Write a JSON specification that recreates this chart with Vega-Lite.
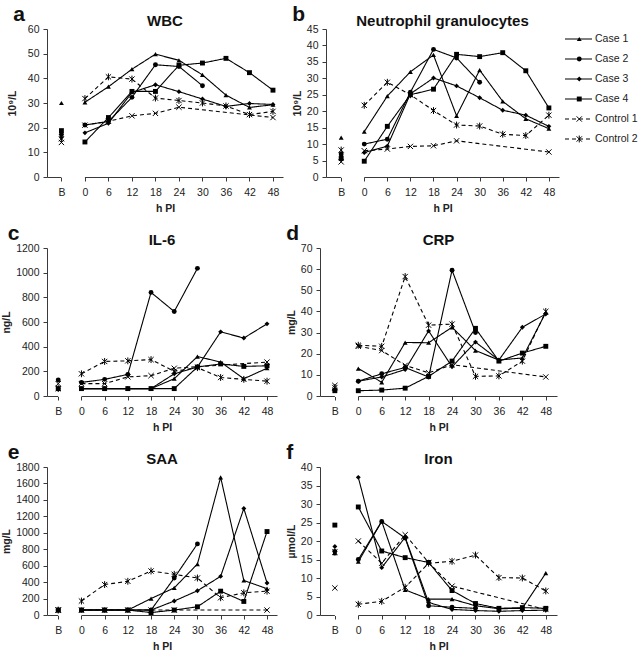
{
"$schema": "https://vega.github.io/schema/vega-lite/v6.json",
"padding": {"left": 1, "top": 4, "right": 0, "bottom": 0},
"autosize": {"type": "pad"},
"datasets": {
"leg": [{"s":"Case 1"},{"s":"Case 2"},{"s":"Case 3"},{"s":"Case 4"},{"s":"Control 1"},{"s":"Control 2"}],
"d": [
{"p":"a","s":"Case 1","h":"B","v":30},{"p":"a","s":"Case 1","h":"0","v":30.3},{"p":"a","s":"Case 1","h":"6","v":36.6},{"p":"a","s":"Case 1","h":"12","v":43.7},{"p":"a","s":"Case 1","h":"18","v":49.8},{"p":"a","s":"Case 1","h":"24","v":47.3},{"p":"a","s":"Case 1","h":"30","v":41.4},{"p":"a","s":"Case 1","h":"36","v":33.2},{"p":"a","s":"Case 1","h":"42","v":28.2},{"p":"a","s":"Case 1","h":"48","v":29.3},
{"p":"a","s":"Case 2","h":"B","v":17.3},{"p":"a","s":"Case 2","h":"0","v":21.1},{"p":"a","s":"Case 2","h":"6","v":22.5},{"p":"a","s":"Case 2","h":"12","v":32.3},{"p":"a","s":"Case 2","h":"18","v":45.5},{"p":"a","s":"Case 2","h":"24","v":44.8},{"p":"a","s":"Case 2","h":"30","v":37},
{"p":"a","s":"Case 3","h":"B","v":16},{"p":"a","s":"Case 3","h":"0","v":17.9},{"p":"a","s":"Case 3","h":"6","v":21.8},{"p":"a","s":"Case 3","h":"12","v":34.3},{"p":"a","s":"Case 3","h":"18","v":37.4},{"p":"a","s":"Case 3","h":"24","v":34.6},{"p":"a","s":"Case 3","h":"30","v":31.6},{"p":"a","s":"Case 3","h":"36","v":28.6},{"p":"a","s":"Case 3","h":"42","v":29.8},{"p":"a","s":"Case 3","h":"48","v":29.4},
{"p":"a","s":"Case 4","h":"B","v":18.8},{"p":"a","s":"Case 4","h":"0","v":14.2},{"p":"a","s":"Case 4","h":"6","v":24.1},{"p":"a","s":"Case 4","h":"12","v":34.7},{"p":"a","s":"Case 4","h":"18","v":34.7},{"p":"a","s":"Case 4","h":"24","v":45.3},{"p":"a","s":"Case 4","h":"30","v":46.2},{"p":"a","s":"Case 4","h":"36","v":48.1},{"p":"a","s":"Case 4","h":"42","v":42.3},{"p":"a","s":"Case 4","h":"48","v":35.2},
{"p":"a","s":"Control 1","h":"B","v":14},{"p":"a","s":"Control 1","h":"0","v":21},{"p":"a","s":"Control 1","h":"6","v":22.6},{"p":"a","s":"Control 1","h":"12","v":24.8},{"p":"a","s":"Control 1","h":"18","v":25.8},{"p":"a","s":"Control 1","h":"24","v":28.3},{"p":"a","s":"Control 1","h":"48","v":24.1},
{"p":"a","s":"Control 2","h":"B","v":15.5},{"p":"a","s":"Control 2","h":"0","v":31.8},{"p":"a","s":"Control 2","h":"6","v":40.6},{"p":"a","s":"Control 2","h":"12","v":39.7},{"p":"a","s":"Control 2","h":"18","v":32},{"p":"a","s":"Control 2","h":"24","v":31},{"p":"a","s":"Control 2","h":"30","v":30},{"p":"a","s":"Control 2","h":"36","v":28.8},{"p":"a","s":"Control 2","h":"42","v":25.3},{"p":"a","s":"Control 2","h":"48","v":26.6},

{"p":"b","s":"Case 1","h":"B","v":12},{"p":"b","s":"Case 1","h":"0","v":13.8},{"p":"b","s":"Case 1","h":"6","v":24.6},{"p":"b","s":"Case 1","h":"12","v":32},{"p":"b","s":"Case 1","h":"18","v":37.1},{"p":"b","s":"Case 1","h":"24","v":18.6},{"p":"b","s":"Case 1","h":"30","v":32.5},{"p":"b","s":"Case 1","h":"36","v":23},{"p":"b","s":"Case 1","h":"42","v":17.7},{"p":"b","s":"Case 1","h":"48","v":14.7},
{"p":"b","s":"Case 2","h":"B","v":7},{"p":"b","s":"Case 2","h":"0","v":10},{"p":"b","s":"Case 2","h":"6","v":11.5},{"p":"b","s":"Case 2","h":"12","v":25.8},{"p":"b","s":"Case 2","h":"18","v":38.8},{"p":"b","s":"Case 2","h":"24","v":36.2},{"p":"b","s":"Case 2","h":"30","v":28.8},
{"p":"b","s":"Case 3","h":"B","v":6.4},{"p":"b","s":"Case 3","h":"0","v":7.4},{"p":"b","s":"Case 3","h":"6","v":9.4},{"p":"b","s":"Case 3","h":"12","v":25.3},{"p":"b","s":"Case 3","h":"18","v":30.1},{"p":"b","s":"Case 3","h":"24","v":27.7},{"p":"b","s":"Case 3","h":"30","v":24.1},{"p":"b","s":"Case 3","h":"36","v":20.3},{"p":"b","s":"Case 3","h":"42","v":18.8},{"p":"b","s":"Case 3","h":"48","v":15.4},
{"p":"b","s":"Case 4","h":"B","v":5.6},{"p":"b","s":"Case 4","h":"0","v":4.8},{"p":"b","s":"Case 4","h":"6","v":15.4},{"p":"b","s":"Case 4","h":"12","v":25},{"p":"b","s":"Case 4","h":"18","v":26.7},{"p":"b","s":"Case 4","h":"24","v":37.3},{"p":"b","s":"Case 4","h":"30","v":36.6},{"p":"b","s":"Case 4","h":"36","v":37.8},{"p":"b","s":"Case 4","h":"42","v":32.3},{"p":"b","s":"Case 4","h":"48","v":21},
{"p":"b","s":"Control 1","h":"B","v":4.6},{"p":"b","s":"Control 1","h":"0","v":8},{"p":"b","s":"Control 1","h":"6","v":8.5},{"p":"b","s":"Control 1","h":"12","v":9.3},{"p":"b","s":"Control 1","h":"18","v":9.5},{"p":"b","s":"Control 1","h":"24","v":11},{"p":"b","s":"Control 1","h":"48","v":7.6},
{"p":"b","s":"Control 2","h":"B","v":8.2},{"p":"b","s":"Control 2","h":"0","v":21.8},{"p":"b","s":"Control 2","h":"6","v":28.8},{"p":"b","s":"Control 2","h":"12","v":25},{"p":"b","s":"Control 2","h":"18","v":20.2},{"p":"b","s":"Control 2","h":"24","v":15.8},{"p":"b","s":"Control 2","h":"30","v":15.5},{"p":"b","s":"Control 2","h":"36","v":13},{"p":"b","s":"Control 2","h":"42","v":12.6},{"p":"b","s":"Control 2","h":"48","v":18.8},

{"p":"c","s":"Case 1","h":"B","v":60},{"p":"c","s":"Case 1","h":"0","v":60},{"p":"c","s":"Case 1","h":"6","v":60},{"p":"c","s":"Case 1","h":"12","v":60},{"p":"c","s":"Case 1","h":"18","v":60},{"p":"c","s":"Case 1","h":"24","v":140},{"p":"c","s":"Case 1","h":"30","v":320},{"p":"c","s":"Case 1","h":"36","v":275},{"p":"c","s":"Case 1","h":"42","v":140},{"p":"c","s":"Case 1","h":"48","v":225},
{"p":"c","s":"Case 2","h":"B","v":130},{"p":"c","s":"Case 2","h":"0","v":110},{"p":"c","s":"Case 2","h":"6","v":135},{"p":"c","s":"Case 2","h":"12","v":175},{"p":"c","s":"Case 2","h":"18","v":840},{"p":"c","s":"Case 2","h":"24","v":685},{"p":"c","s":"Case 2","h":"30","v":1035},
{"p":"c","s":"Case 3","h":"B","v":60},{"p":"c","s":"Case 3","h":"0","v":60},{"p":"c","s":"Case 3","h":"6","v":60},{"p":"c","s":"Case 3","h":"12","v":60},{"p":"c","s":"Case 3","h":"18","v":60},{"p":"c","s":"Case 3","h":"24","v":180},{"p":"c","s":"Case 3","h":"30","v":235},{"p":"c","s":"Case 3","h":"36","v":520},{"p":"c","s":"Case 3","h":"42","v":470},{"p":"c","s":"Case 3","h":"48","v":585},
{"p":"c","s":"Case 4","h":"B","v":60},{"p":"c","s":"Case 4","h":"0","v":60},{"p":"c","s":"Case 4","h":"6","v":60},{"p":"c","s":"Case 4","h":"12","v":60},{"p":"c","s":"Case 4","h":"18","v":60},{"p":"c","s":"Case 4","h":"24","v":60},{"p":"c","s":"Case 4","h":"30","v":235},{"p":"c","s":"Case 4","h":"36","v":260},{"p":"c","s":"Case 4","h":"42","v":240},{"p":"c","s":"Case 4","h":"48","v":245},
{"p":"c","s":"Control 1","h":"B","v":100},{"p":"c","s":"Control 1","h":"0","v":100},{"p":"c","s":"Control 1","h":"6","v":100},{"p":"c","s":"Control 1","h":"12","v":155},{"p":"c","s":"Control 1","h":"18","v":165},{"p":"c","s":"Control 1","h":"24","v":225},{"p":"c","s":"Control 1","h":"48","v":275},
{"p":"c","s":"Control 2","h":"B","v":60},{"p":"c","s":"Control 2","h":"0","v":180},{"p":"c","s":"Control 2","h":"6","v":280},{"p":"c","s":"Control 2","h":"12","v":285},{"p":"c","s":"Control 2","h":"18","v":295},{"p":"c","s":"Control 2","h":"24","v":200},{"p":"c","s":"Control 2","h":"30","v":230},{"p":"c","s":"Control 2","h":"36","v":150},{"p":"c","s":"Control 2","h":"42","v":135},{"p":"c","s":"Control 2","h":"48","v":120},

{"p":"d","s":"Case 1","h":"B","v":3.5},{"p":"d","s":"Case 1","h":"0","v":13},{"p":"d","s":"Case 1","h":"6","v":6.5},{"p":"d","s":"Case 1","h":"12","v":25.3},{"p":"d","s":"Case 1","h":"18","v":25.2},{"p":"d","s":"Case 1","h":"24","v":32.5},{"p":"d","s":"Case 1","h":"30","v":21.5},{"p":"d","s":"Case 1","h":"36","v":17},{"p":"d","s":"Case 1","h":"42","v":18},{"p":"d","s":"Case 1","h":"48","v":39.5},
{"p":"d","s":"Case 2","h":"B","v":2.8},{"p":"d","s":"Case 2","h":"0","v":7},{"p":"d","s":"Case 2","h":"6","v":10.5},{"p":"d","s":"Case 2","h":"12","v":13.5},{"p":"d","s":"Case 2","h":"18","v":9},{"p":"d","s":"Case 2","h":"24","v":59.5},{"p":"d","s":"Case 2","h":"30","v":30},
{"p":"d","s":"Case 3","h":"B","v":3},{"p":"d","s":"Case 3","h":"0","v":7},{"p":"d","s":"Case 3","h":"6","v":9},{"p":"d","s":"Case 3","h":"12","v":12.5},{"p":"d","s":"Case 3","h":"18","v":30.8},{"p":"d","s":"Case 3","h":"24","v":13.8},{"p":"d","s":"Case 3","h":"30","v":25.5},{"p":"d","s":"Case 3","h":"36","v":17},{"p":"d","s":"Case 3","h":"42","v":32.5},{"p":"d","s":"Case 3","h":"48","v":38.8},
{"p":"d","s":"Case 4","h":"B","v":2.5},{"p":"d","s":"Case 4","h":"0","v":2.5},{"p":"d","s":"Case 4","h":"6","v":2.8},{"p":"d","s":"Case 4","h":"12","v":3.7},{"p":"d","s":"Case 4","h":"18","v":9.3},{"p":"d","s":"Case 4","h":"24","v":16.5},{"p":"d","s":"Case 4","h":"30","v":32},{"p":"d","s":"Case 4","h":"36","v":16.5},{"p":"d","s":"Case 4","h":"42","v":20.3},{"p":"d","s":"Case 4","h":"48","v":23.5},
{"p":"d","s":"Control 1","h":"B","v":5},{"p":"d","s":"Control 1","h":"0","v":23.5},{"p":"d","s":"Control 1","h":"6","v":21.5},{"p":"d","s":"Control 1","h":"12","v":14.5},{"p":"d","s":"Control 1","h":"18","v":11},{"p":"d","s":"Control 1","h":"24","v":14.8},{"p":"d","s":"Control 1","h":"48","v":9},
{"p":"d","s":"Control 2","h":"B","v":4},{"p":"d","s":"Control 2","h":"0","v":24},{"p":"d","s":"Control 2","h":"6","v":23.5},{"p":"d","s":"Control 2","h":"12","v":56.5},{"p":"d","s":"Control 2","h":"18","v":33.5},{"p":"d","s":"Control 2","h":"24","v":34},{"p":"d","s":"Control 2","h":"30","v":9.3},{"p":"d","s":"Control 2","h":"36","v":9.5},{"p":"d","s":"Control 2","h":"42","v":16.5},{"p":"d","s":"Control 2","h":"48","v":40},

{"p":"e","s":"Case 1","h":"B","v":60},{"p":"e","s":"Case 1","h":"0","v":60},{"p":"e","s":"Case 1","h":"6","v":60},{"p":"e","s":"Case 1","h":"12","v":60},{"p":"e","s":"Case 1","h":"18","v":200},{"p":"e","s":"Case 1","h":"24","v":330},{"p":"e","s":"Case 1","h":"30","v":620},{"p":"e","s":"Case 1","h":"36","v":1675},{"p":"e","s":"Case 1","h":"42","v":420},{"p":"e","s":"Case 1","h":"48","v":320},
{"p":"e","s":"Case 2","h":"B","v":60},{"p":"e","s":"Case 2","h":"0","v":60},{"p":"e","s":"Case 2","h":"6","v":60},{"p":"e","s":"Case 2","h":"12","v":60},{"p":"e","s":"Case 2","h":"18","v":60},{"p":"e","s":"Case 2","h":"24","v":450},{"p":"e","s":"Case 2","h":"30","v":865},
{"p":"e","s":"Case 3","h":"B","v":60},{"p":"e","s":"Case 3","h":"0","v":60},{"p":"e","s":"Case 3","h":"6","v":60},{"p":"e","s":"Case 3","h":"12","v":60},{"p":"e","s":"Case 3","h":"18","v":60},{"p":"e","s":"Case 3","h":"24","v":170},{"p":"e","s":"Case 3","h":"30","v":295},{"p":"e","s":"Case 3","h":"36","v":470},{"p":"e","s":"Case 3","h":"42","v":1295},{"p":"e","s":"Case 3","h":"48","v":390},
{"p":"e","s":"Case 4","h":"B","v":60},{"p":"e","s":"Case 4","h":"0","v":60},{"p":"e","s":"Case 4","h":"6","v":60},{"p":"e","s":"Case 4","h":"12","v":60},{"p":"e","s":"Case 4","h":"18","v":30},{"p":"e","s":"Case 4","h":"24","v":60},{"p":"e","s":"Case 4","h":"30","v":100},{"p":"e","s":"Case 4","h":"36","v":290},{"p":"e","s":"Case 4","h":"42","v":165},{"p":"e","s":"Case 4","h":"48","v":1015},
{"p":"e","s":"Control 1","h":"B","v":60},{"p":"e","s":"Control 1","h":"0","v":60},{"p":"e","s":"Control 1","h":"6","v":60},{"p":"e","s":"Control 1","h":"12","v":60},{"p":"e","s":"Control 1","h":"18","v":60},{"p":"e","s":"Control 1","h":"24","v":60},{"p":"e","s":"Control 1","h":"48","v":60},
{"p":"e","s":"Control 2","h":"B","v":60},{"p":"e","s":"Control 2","h":"0","v":170},{"p":"e","s":"Control 2","h":"6","v":370},{"p":"e","s":"Control 2","h":"12","v":410},{"p":"e","s":"Control 2","h":"18","v":535},{"p":"e","s":"Control 2","h":"24","v":495},{"p":"e","s":"Control 2","h":"30","v":450},{"p":"e","s":"Control 2","h":"36","v":210},{"p":"e","s":"Control 2","h":"42","v":270},{"p":"e","s":"Control 2","h":"48","v":290},

{"p":"f","s":"Case 1","h":"B","v":16.7},{"p":"f","s":"Case 1","h":"0","v":14.4},{"p":"f","s":"Case 1","h":"6","v":25.3},{"p":"f","s":"Case 1","h":"12","v":6.8},{"p":"f","s":"Case 1","h":"18","v":4.3},{"p":"f","s":"Case 1","h":"24","v":4.3},{"p":"f","s":"Case 1","h":"30","v":2.5},{"p":"f","s":"Case 1","h":"36","v":1.7},{"p":"f","s":"Case 1","h":"42","v":1.8},{"p":"f","s":"Case 1","h":"48","v":11.3},
{"p":"f","s":"Case 2","h":"B","v":17.2},{"p":"f","s":"Case 2","h":"0","v":15},{"p":"f","s":"Case 2","h":"6","v":25.3},{"p":"f","s":"Case 2","h":"12","v":20.8},{"p":"f","s":"Case 2","h":"18","v":2.5},{"p":"f","s":"Case 2","h":"24","v":2.1},{"p":"f","s":"Case 2","h":"30","v":1.8},
{"p":"f","s":"Case 3","h":"B","v":18.5},{"p":"f","s":"Case 3","h":"0","v":37.2},{"p":"f","s":"Case 3","h":"6","v":12.8},{"p":"f","s":"Case 3","h":"12","v":21},{"p":"f","s":"Case 3","h":"18","v":3.4},{"p":"f","s":"Case 3","h":"24","v":1.5},{"p":"f","s":"Case 3","h":"30","v":1.2},{"p":"f","s":"Case 3","h":"36","v":1},{"p":"f","s":"Case 3","h":"42","v":1.2},{"p":"f","s":"Case 3","h":"48","v":1.3},
{"p":"f","s":"Case 4","h":"B","v":24.3},{"p":"f","s":"Case 4","h":"0","v":29.2},{"p":"f","s":"Case 4","h":"6","v":17.3},{"p":"f","s":"Case 4","h":"12","v":15.5},{"p":"f","s":"Case 4","h":"18","v":14.2},{"p":"f","s":"Case 4","h":"24","v":6.6},{"p":"f","s":"Case 4","h":"30","v":3.1},{"p":"f","s":"Case 4","h":"36","v":1.8},{"p":"f","s":"Case 4","h":"42","v":2},{"p":"f","s":"Case 4","h":"48","v":1.8},
{"p":"f","s":"Control 1","h":"B","v":7.3},{"p":"f","s":"Control 1","h":"0","v":20},{"p":"f","s":"Control 1","h":"6","v":14},{"p":"f","s":"Control 1","h":"12","v":21.7},{"p":"f","s":"Control 1","h":"18","v":14.2},{"p":"f","s":"Control 1","h":"24","v":7.8},{"p":"f","s":"Control 1","h":"48","v":1.5},
{"p":"f","s":"Control 2","h":"B","v":17},{"p":"f","s":"Control 2","h":"0","v":2.9},{"p":"f","s":"Control 2","h":"6","v":3.7},{"p":"f","s":"Control 2","h":"12","v":7.5},{"p":"f","s":"Control 2","h":"18","v":14},{"p":"f","s":"Control 2","h":"24","v":14.5},{"p":"f","s":"Control 2","h":"30","v":16.2},{"p":"f","s":"Control 2","h":"36","v":10.1},{"p":"f","s":"Control 2","h":"42","v":10},{"p":"f","s":"Control 2","h":"48","v":6.5}
]
},
"columns": 1,
"align": "none",
"spacing": 9,
"concat": [
{"spacing": 9, "hconcat": [
 {"title": {"text": "a", "anchor": "start", "frame": "bounds", "fontSize": 21, "fontWeight": "bold", "offset": -11, "dx": 6},
  "vconcat": [{"width": 236, "height": 148, "title": {"text": "WBC", "anchor": "middle", "frame": "group", "fontSize": 15, "fontWeight": "bold", "offset": -5},
  "data": {"name": "d"}, "transform": [{"filter": "datum.p=='a'"}],
  "encoding": {
   "x": {"field": "h", "type": "ordinal", "scale": {"type": "point", "domain": ["B","0","6","12","18","24","30","36","42","48"], "padding": 0.52, "align": 0.59}, "axis": {"title": "h PI", "labelAngle": 0}},
   "y": {"field": "v", "type": "quantitative", "scale": {"domain": [0, 60], "nice": false}, "axis": {"title": "10⁹/L", "values": [0,10,20,30,40,50,60], "titlePadding": 10}}},
  "layer": [
   {"mark": {"type": "rule", "color": "white", "strokeWidth": 2}, "transform": [{"filter": "datum.s=='Case 1' && datum.h=='B'"}],
    "encoding": {"x": {"datum": "B", "type": "ordinal"}, "x2": {"datum": "0"}, "y": {"datum": 0, "type": "quantitative"}}},
   {"mark": {"type": "line", "color": "black", "strokeWidth": 1.1}, "transform": [{"filter": "datum.h!='B'"}],
    "encoding": {"strokeDash": {"field": "s", "type": "nominal", "scale": {"domain": ["Case 1","Case 2","Case 3","Case 4","Control 1","Control 2"], "range": [[1,0],[1,0],[1,0],[1,0],[4,3],[4,3]]}, "legend": null}, "order": {"value": null}}},
   {"mark": {"type": "point", "filled": true, "size": 24, "color": "black", "opacity": 1}, "transform": [{"filter": "indexof(datum.s,'Case')==0"}],
    "encoding": {"shape": {"field": "s", "type": "nominal", "scale": {"domain": ["Case 1","Case 2","Case 3","Case 4","Control 1","Control 2"], "range": ["triangle-up","circle","diamond","square","M-1,-1L1,1M-1,1L1,-1","M-1,-1L1,1M-1,1L1,-1M0,-1.3L0,1.3"]}, "legend": null}}},
   {"mark": {"type": "point", "filled": false, "size": 28, "color": "black", "strokeWidth": 1, "opacity": 1}, "transform": [{"filter": "indexof(datum.s,'Control')==0"}],
    "encoding": {"shape": {"field": "s", "type": "nominal", "scale": {"domain": ["Case 1","Case 2","Case 3","Case 4","Control 1","Control 2"], "range": ["triangle-up","circle","diamond","square","M-1,-1L1,1M-1,1L1,-1","M-1,-1L1,1M-1,1L1,-1M0,-1.3L0,1.3"]}, "legend": null}}}
  ]}]},
 {"spacing": 5, "hconcat": [
 {"title": {"text": "b", "anchor": "start", "frame": "bounds", "fontSize": 21, "fontWeight": "bold", "offset": -11, "dx": 0},
  "vconcat": [{"width": 233, "height": 148, "title": {"text": "Neutrophil granulocytes", "anchor": "middle", "frame": "group", "fontSize": 15, "fontWeight": "bold", "offset": -5},
  "data": {"name": "d"}, "transform": [{"filter": "datum.p=='b'"}],
  "encoding": {
   "x": {"field": "h", "type": "ordinal", "scale": {"type": "point", "domain": ["B","0","6","12","18","24","30","36","42","48"], "padding": 0.548, "align": 0.6}, "axis": {"title": "h PI", "labelAngle": 0}},
   "y": {"field": "v", "type": "quantitative", "scale": {"domain": [0, 45], "nice": false}, "axis": {"title": "10⁹/L", "values": [0,5,10,15,20,25,30,35,40,45]}}},
  "layer": [
   {"mark": {"type": "rule", "color": "white", "strokeWidth": 2}, "transform": [{"filter": "datum.s=='Case 1' && datum.h=='B'"}],
    "encoding": {"x": {"datum": "B", "type": "ordinal"}, "x2": {"datum": "0"}, "y": {"datum": 0, "type": "quantitative"}}},
   {"mark": {"type": "line", "color": "black", "strokeWidth": 1.1}, "transform": [{"filter": "datum.h!='B'"}],
    "encoding": {"strokeDash": {"field": "s", "type": "nominal", "scale": {"domain": ["Case 1","Case 2","Case 3","Case 4","Control 1","Control 2"], "range": [[1,0],[1,0],[1,0],[1,0],[4,3],[4,3]]}, "legend": null}, "order": {"value": null}}},
   {"mark": {"type": "point", "filled": true, "size": 24, "color": "black", "opacity": 1}, "transform": [{"filter": "indexof(datum.s,'Case')==0"}],
    "encoding": {"shape": {"field": "s", "type": "nominal", "scale": {"domain": ["Case 1","Case 2","Case 3","Case 4","Control 1","Control 2"], "range": ["triangle-up","circle","diamond","square","M-1,-1L1,1M-1,1L1,-1","M-1,-1L1,1M-1,1L1,-1M0,-1.3L0,1.3"]}, "legend": null}}},
   {"mark": {"type": "point", "filled": false, "size": 28, "color": "black", "strokeWidth": 1, "opacity": 1}, "transform": [{"filter": "indexof(datum.s,'Control')==0"}],
    "encoding": {"shape": {"field": "s", "type": "nominal", "scale": {"domain": ["Case 1","Case 2","Case 3","Case 4","Control 1","Control 2"], "range": ["triangle-up","circle","diamond","square","M-1,-1L1,1M-1,1L1,-1","M-1,-1L1,1M-1,1L1,-1M0,-1.3L0,1.3"]}, "legend": null}}}
  ]}]},
 {"width": 75, "height": 120, "data": {"name": "leg"},
  "encoding": {"y": {"field": "s", "type": "nominal", "scale": {"type": "point", "domain": ["Case 1","Case 2","Case 3","Case 4","Control 1","Control 2"], "padding": 0.5}, "axis": null}},
  "layer": [
   {"mark": {"type": "rule", "color": "black", "strokeWidth": 1.1},
    "encoding": {"x": {"datum": 0, "type": "quantitative", "scale": {"domain": [0, 10]}, "axis": null}, "x2": {"datum": 3.6},
     "strokeDash": {"field": "s", "type": "nominal", "scale": {"domain": ["Case 1","Case 2","Case 3","Case 4","Control 1","Control 2"], "range": [[1,0],[1,0],[1,0],[1,0],[4,3],[4,3]]}, "legend": null}}},
   {"transform": [{"filter": "indexof(datum.s,'Case')==0"}],
    "mark": {"type": "point", "filled": true, "size": 24, "color": "black", "opacity": 1},
    "encoding": {"x": {"datum": 1.9, "type": "quantitative", "scale": {"domain": [0, 10]}, "axis": null},
     "shape": {"field": "s", "type": "nominal", "scale": {"domain": ["Case 1","Case 2","Case 3","Case 4","Control 1","Control 2"], "range": ["triangle-up","circle","diamond","square","M-1,-1L1,1M-1,1L1,-1","M-1,-1L1,1M-1,1L1,-1M0,-1.3L0,1.3"]}, "legend": null}}},
   {"transform": [{"filter": "indexof(datum.s,'Control')==0"}],
    "mark": {"type": "point", "filled": false, "size": 28, "color": "black", "strokeWidth": 1, "opacity": 1},
    "encoding": {"x": {"datum": 1.9, "type": "quantitative", "scale": {"domain": [0, 10]}, "axis": null},
     "shape": {"field": "s", "type": "nominal", "scale": {"domain": ["Case 1","Case 2","Case 3","Case 4","Control 1","Control 2"], "range": ["triangle-up","circle","diamond","square","M-1,-1L1,1M-1,1L1,-1","M-1,-1L1,1M-1,1L1,-1M0,-1.3L0,1.3"]}, "legend": null}}},
   {"mark": {"type": "text", "align": "left", "baseline": "middle", "fontSize": 10.5, "color": "#222", "font": "Liberation Sans"},
    "encoding": {"x": {"datum": 4.0, "type": "quantitative", "scale": {"domain": [0, 10]}, "axis": null}, "text": {"field": "s"}}}
  ]}
 ]}
]},
{"spacing": 9, "hconcat": [
 {"title": {"text": "c", "anchor": "start", "frame": "bounds", "fontSize": 21, "fontWeight": "bold", "offset": -11, "dx": 6},
  "vconcat": [{"width": 230, "height": 148, "title": {"text": "IL-6", "anchor": "middle", "frame": "group", "fontSize": 15, "fontWeight": "bold", "offset": -5},
  "data": {"name": "d"}, "transform": [{"filter": "datum.p=='c'"}],
  "encoding": {
   "x": {"field": "h", "type": "ordinal", "scale": {"type": "point", "domain": ["B","0","6","12","18","24","30","36","42","48"], "padding": 0.457, "align": 0.53}, "axis": {"title": "h PI", "labelAngle": 0}},
   "y": {"field": "v", "type": "quantitative", "scale": {"domain": [0, 1200], "nice": false}, "axis": {"title": "ng/L", "format": "d", "values": [0,200,400,600,800,1000,1200]}}},
  "layer": [
   {"mark": {"type": "rule", "color": "white", "strokeWidth": 2}, "transform": [{"filter": "datum.s=='Case 1' && datum.h=='B'"}],
    "encoding": {"x": {"datum": "B", "type": "ordinal"}, "x2": {"datum": "0"}, "y": {"datum": 0, "type": "quantitative"}}},
   {"mark": {"type": "line", "color": "black", "strokeWidth": 1.1}, "transform": [{"filter": "datum.h!='B'"}],
    "encoding": {"strokeDash": {"field": "s", "type": "nominal", "scale": {"domain": ["Case 1","Case 2","Case 3","Case 4","Control 1","Control 2"], "range": [[1,0],[1,0],[1,0],[1,0],[4,3],[4,3]]}, "legend": null}, "order": {"value": null}}},
   {"mark": {"type": "point", "filled": true, "size": 24, "color": "black", "opacity": 1}, "transform": [{"filter": "indexof(datum.s,'Case')==0"}],
    "encoding": {"shape": {"field": "s", "type": "nominal", "scale": {"domain": ["Case 1","Case 2","Case 3","Case 4","Control 1","Control 2"], "range": ["triangle-up","circle","diamond","square","M-1,-1L1,1M-1,1L1,-1","M-1,-1L1,1M-1,1L1,-1M0,-1.3L0,1.3"]}, "legend": null}}},
   {"mark": {"type": "point", "filled": false, "size": 28, "color": "black", "strokeWidth": 1, "opacity": 1}, "transform": [{"filter": "indexof(datum.s,'Control')==0"}],
    "encoding": {"shape": {"field": "s", "type": "nominal", "scale": {"domain": ["Case 1","Case 2","Case 3","Case 4","Control 1","Control 2"], "range": ["triangle-up","circle","diamond","square","M-1,-1L1,1M-1,1L1,-1","M-1,-1L1,1M-1,1L1,-1M0,-1.3L0,1.3"]}, "legend": null}}}
  ]}]},
 {"title": {"text": "d", "anchor": "start", "frame": "bounds", "fontSize": 21, "fontWeight": "bold", "offset": -11, "dx": 0},
  "vconcat": [{"width": 237, "height": 148, "title": {"text": "CRP", "anchor": "middle", "frame": "group", "fontSize": 15, "fontWeight": "bold", "offset": -5},
  "data": {"name": "d"}, "transform": [{"filter": "datum.p=='d'"}],
  "encoding": {
   "x": {"field": "h", "type": "ordinal", "scale": {"type": "point", "domain": ["B","0","6","12","18","24","30","36","42","48"], "padding": 0.556, "align": 0.57}, "axis": {"title": "h PI", "labelAngle": 0}},
   "y": {"field": "v", "type": "quantitative", "scale": {"domain": [0, 70], "nice": false}, "axis": {"title": "mg/L", "values": [0,10,20,30,40,50,60,70]}}},
  "layer": [
   {"mark": {"type": "rule", "color": "white", "strokeWidth": 2}, "transform": [{"filter": "datum.s=='Case 1' && datum.h=='B'"}],
    "encoding": {"x": {"datum": "B", "type": "ordinal"}, "x2": {"datum": "0"}, "y": {"datum": 0, "type": "quantitative"}}},
   {"mark": {"type": "line", "color": "black", "strokeWidth": 1.1}, "transform": [{"filter": "datum.h!='B'"}],
    "encoding": {"strokeDash": {"field": "s", "type": "nominal", "scale": {"domain": ["Case 1","Case 2","Case 3","Case 4","Control 1","Control 2"], "range": [[1,0],[1,0],[1,0],[1,0],[4,3],[4,3]]}, "legend": null}, "order": {"value": null}}},
   {"mark": {"type": "point", "filled": true, "size": 24, "color": "black", "opacity": 1}, "transform": [{"filter": "indexof(datum.s,'Case')==0"}],
    "encoding": {"shape": {"field": "s", "type": "nominal", "scale": {"domain": ["Case 1","Case 2","Case 3","Case 4","Control 1","Control 2"], "range": ["triangle-up","circle","diamond","square","M-1,-1L1,1M-1,1L1,-1","M-1,-1L1,1M-1,1L1,-1M0,-1.3L0,1.3"]}, "legend": null}}},
   {"mark": {"type": "point", "filled": false, "size": 28, "color": "black", "strokeWidth": 1, "opacity": 1}, "transform": [{"filter": "indexof(datum.s,'Control')==0"}],
    "encoding": {"shape": {"field": "s", "type": "nominal", "scale": {"domain": ["Case 1","Case 2","Case 3","Case 4","Control 1","Control 2"], "range": ["triangle-up","circle","diamond","square","M-1,-1L1,1M-1,1L1,-1","M-1,-1L1,1M-1,1L1,-1M0,-1.3L0,1.3"]}, "legend": null}}}
  ]}]}
]},
{"spacing": 9, "hconcat": [
 {"title": {"text": "e", "anchor": "start", "frame": "bounds", "fontSize": 21, "fontWeight": "bold", "offset": -11, "dx": 6},
  "vconcat": [{"width": 230, "height": 148, "title": {"text": "SAA", "anchor": "middle", "frame": "group", "fontSize": 15, "fontWeight": "bold", "offset": -5},
  "data": {"name": "d"}, "transform": [{"filter": "datum.p=='e'"}],
  "encoding": {
   "x": {"field": "h", "type": "ordinal", "scale": {"type": "point", "domain": ["B","0","6","12","18","24","30","36","42","48"], "padding": 0.457, "align": 0.53}, "axis": {"title": "h PI", "labelAngle": 0}},
   "y": {"field": "v", "type": "quantitative", "scale": {"domain": [0, 1800], "nice": false}, "axis": {"title": "mg/L", "format": "d", "values": [0,200,400,600,800,1000,1200,1400,1600,1800]}}},
  "layer": [
   {"mark": {"type": "rule", "color": "white", "strokeWidth": 2}, "transform": [{"filter": "datum.s=='Case 1' && datum.h=='B'"}],
    "encoding": {"x": {"datum": "B", "type": "ordinal"}, "x2": {"datum": "0"}, "y": {"datum": 0, "type": "quantitative"}}},
   {"mark": {"type": "line", "color": "black", "strokeWidth": 1.1}, "transform": [{"filter": "datum.h!='B'"}],
    "encoding": {"strokeDash": {"field": "s", "type": "nominal", "scale": {"domain": ["Case 1","Case 2","Case 3","Case 4","Control 1","Control 2"], "range": [[1,0],[1,0],[1,0],[1,0],[4,3],[4,3]]}, "legend": null}, "order": {"value": null}}},
   {"mark": {"type": "point", "filled": true, "size": 24, "color": "black", "opacity": 1}, "transform": [{"filter": "indexof(datum.s,'Case')==0"}],
    "encoding": {"shape": {"field": "s", "type": "nominal", "scale": {"domain": ["Case 1","Case 2","Case 3","Case 4","Control 1","Control 2"], "range": ["triangle-up","circle","diamond","square","M-1,-1L1,1M-1,1L1,-1","M-1,-1L1,1M-1,1L1,-1M0,-1.3L0,1.3"]}, "legend": null}}},
   {"mark": {"type": "point", "filled": false, "size": 28, "color": "black", "strokeWidth": 1, "opacity": 1}, "transform": [{"filter": "indexof(datum.s,'Control')==0"}],
    "encoding": {"shape": {"field": "s", "type": "nominal", "scale": {"domain": ["Case 1","Case 2","Case 3","Case 4","Control 1","Control 2"], "range": ["triangle-up","circle","diamond","square","M-1,-1L1,1M-1,1L1,-1","M-1,-1L1,1M-1,1L1,-1M0,-1.3L0,1.3"]}, "legend": null}}}
  ]}]},
 {"title": {"text": "f", "anchor": "start", "frame": "bounds", "fontSize": 21, "fontWeight": "bold", "offset": -11, "dx": 0},
  "vconcat": [{"width": 237, "height": 148, "title": {"text": "Iron", "anchor": "middle", "frame": "group", "fontSize": 15, "fontWeight": "bold", "offset": -5},
  "data": {"name": "d"}, "transform": [{"filter": "datum.p=='f'"}],
  "encoding": {
   "x": {"field": "h", "type": "ordinal", "scale": {"type": "point", "domain": ["B","0","6","12","18","24","30","36","42","48"], "padding": 0.556, "align": 0.57}, "axis": {"title": "h PI", "labelAngle": 0}},
   "y": {"field": "v", "type": "quantitative", "scale": {"domain": [0, 40], "nice": false}, "axis": {"title": "µmol/L", "values": [0,5,10,15,20,25,30,35,40]}}},
  "layer": [
   {"mark": {"type": "rule", "color": "white", "strokeWidth": 2}, "transform": [{"filter": "datum.s=='Case 1' && datum.h=='B'"}],
    "encoding": {"x": {"datum": "B", "type": "ordinal"}, "x2": {"datum": "0"}, "y": {"datum": 0, "type": "quantitative"}}},
   {"mark": {"type": "line", "color": "black", "strokeWidth": 1.1}, "transform": [{"filter": "datum.h!='B'"}],
    "encoding": {"strokeDash": {"field": "s", "type": "nominal", "scale": {"domain": ["Case 1","Case 2","Case 3","Case 4","Control 1","Control 2"], "range": [[1,0],[1,0],[1,0],[1,0],[4,3],[4,3]]}, "legend": null}, "order": {"value": null}}},
   {"mark": {"type": "point", "filled": true, "size": 24, "color": "black", "opacity": 1}, "transform": [{"filter": "indexof(datum.s,'Case')==0"}],
    "encoding": {"shape": {"field": "s", "type": "nominal", "scale": {"domain": ["Case 1","Case 2","Case 3","Case 4","Control 1","Control 2"], "range": ["triangle-up","circle","diamond","square","M-1,-1L1,1M-1,1L1,-1","M-1,-1L1,1M-1,1L1,-1M0,-1.3L0,1.3"]}, "legend": null}}},
   {"mark": {"type": "point", "filled": false, "size": 28, "color": "black", "strokeWidth": 1, "opacity": 1}, "transform": [{"filter": "indexof(datum.s,'Control')==0"}],
    "encoding": {"shape": {"field": "s", "type": "nominal", "scale": {"domain": ["Case 1","Case 2","Case 3","Case 4","Control 1","Control 2"], "range": ["triangle-up","circle","diamond","square","M-1,-1L1,1M-1,1L1,-1","M-1,-1L1,1M-1,1L1,-1M0,-1.3L0,1.3"]}, "legend": null}}}
  ]}]}
]}
],
"config": {
 "view": {"stroke": null},
 "font": "Liberation Sans",
 "title": {"font": "Liberation Sans", "color": "#111"},
 "axis": {"grid": false, "domainColor": "#3a3a3a", "tickColor": "#3a3a3a", "tickSize": 4, "labelFont": "Liberation Sans", "titleFont": "Liberation Sans", "labelFontSize": 10.5, "labelColor": "#222", "titleColor": "#222", "titleFontSize": 10.5, "titleFontWeight": "bold", "titlePadding": 4},
 "axisX": {"labelPadding": 6, "titlePadding": 6},
 "axisY": {"labelPadding": 4}
}
}
